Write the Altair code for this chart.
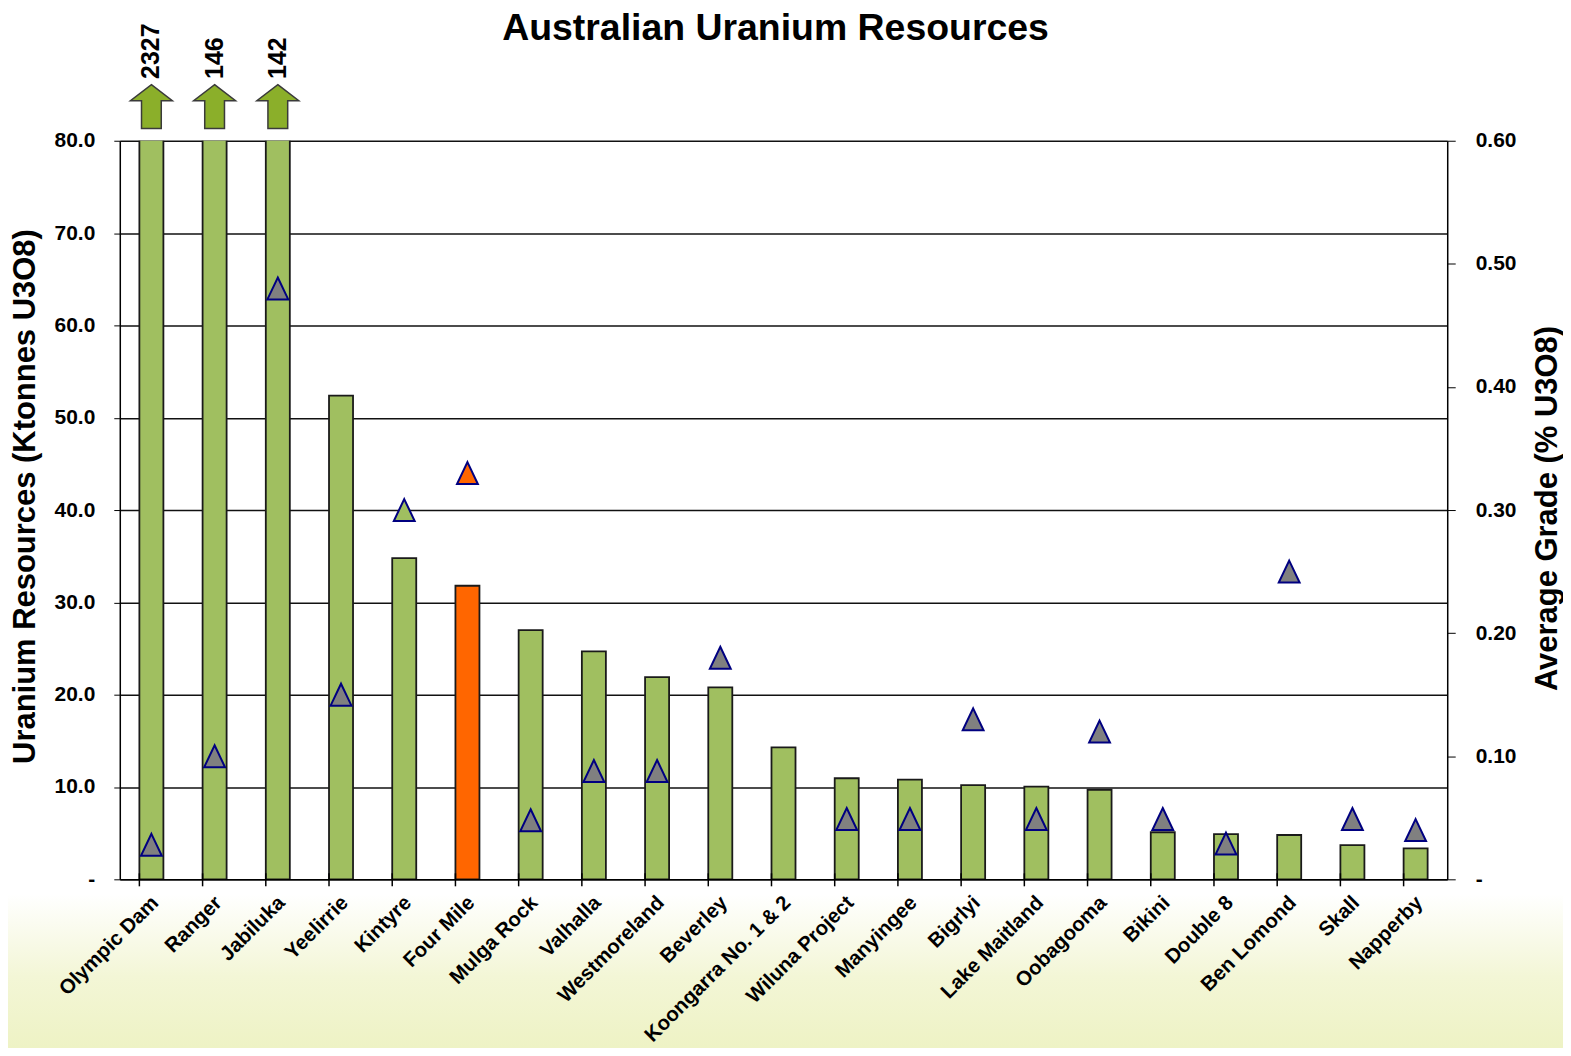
import altair as alt
import pandas as pd

# ---------------- data ----------------
categories = ["Olympic Dam", "Ranger", "Jabiluka", "Yeelirrie", "Kintyre", "Four Mile",
              "Mulga Rock", "Valhalla", "Westmoreland", "Beverley", "Koongarra No. 1 & 2",
              "Wiluna Project", "Manyingee", "Bigrlyi", "Lake Maitland", "Oobagooma",
              "Bikini", "Double 8", "Ben Lomond", "Skall", "Napperby"]
resources = [2327, 146, 142, 52.4, 34.8, 31.8, 27.0, 24.7, 21.9, 20.8, 14.3,
             10.95, 10.8, 10.2, 10.05, 9.7, 5.1, 4.9, 4.8, 3.7, 3.35]
grades = [0.028, 0.10, 0.48, 0.15, 0.30, 0.33, 0.048, 0.088, 0.088, 0.18, None,
          0.049, 0.049, 0.13, 0.049, 0.12, 0.049, 0.029, 0.25, 0.049, 0.04]

y_ticks = [0, 10, 20, 30, 40, 50, 60, 70, 80]
y2_ticks = [0, 0.1, 0.2, 0.3, 0.4, 0.5, 0.6]

# ---------------- styles ----------------
GREEN = "#A0BF60"
ORANGE = "#FF6600"
GREY = "#808080"
NAVY = "#000080"
FONT = "Liberation Sans"
bar_highlight = {"Four Mile": ORANGE}
marker_highlight = {"Kintyre": GREEN, "Four Mile": ORANGE}

df = pd.DataFrame({"name": categories, "resources": resources, "grade": grades})
df["bar_color"] = [bar_highlight.get(n, GREEN) for n in categories]
df["marker_color"] = [marker_highlight.get(n, GREY) for n in categories]
df["label"] = [str(int(v)) for v in resources]

ARROW = "M0,-1 L0.955,-0.27 L0.45,-0.27 L0.45,1 L-0.45,1 L-0.45,-0.27 L-0.955,-0.27 Z"
TRI = "M0,-1 L0.95,1 L-0.95,1 Z"

W, H = 1330, 740

x_enc = alt.X("name:N", sort=categories,
              scale=alt.Scale(paddingInner=0.62, paddingOuter=0.31),
              axis=alt.Axis(title=None, labelAngle=315, labelAlign="right",
                            labelBaseline="middle", labelPadding=20, ticks=False,
                            labelFontSize=20.5, labelLimit=400, grid=False, zindex=2,
                            labelOffset=4,
                            domainColor="#000", domainWidth=1.5))

base = alt.Chart(df).encode(x=x_enc)

# background gradient band at bottom
bg = alt.Chart(pd.DataFrame({"a": [0]})).mark_rect(
    clip=False,
    color=alt.Gradient(gradient="linear",
                       stops=[alt.GradientStop(color="#FFFFFF", offset=0),
                              alt.GradientStop(color="#F3F6D6", offset=0.5),
                              alt.GradientStop(color="#EDF2C2", offset=1)],
                       x1=0, x2=0, y1=0, y2=1)
).encode(x=alt.value(-112), x2=alt.value(W + 116), y=alt.value(755), y2=alt.value(920))

y_left = alt.Y("resources:Q",
               scale=alt.Scale(domain=[0, 80], nice=False),
               axis=alt.Axis(values=y_ticks, grid=True, gridColor="#111", gridWidth=1.5,
                             tickSize=6, tickColor="#000", labelPadding=19,
                             labelExpr="datum.value == 0 ? '-' : format(datum.value, '.1f')",
                             labelFontSize=21, domainColor="#000", domainWidth=1.5,
                             title="Uranium Resources (Ktonnes U3O8)", titleFontSize=31,
                             titleAngle=270, titleX=-94, titleY=356,
                             titleAlign="center", titleBaseline="middle", orient="left"))

bars = base.mark_bar(clip=True, stroke="#1a1a1a", strokeWidth=1.8).encode(
    y=y_left,
    color=alt.Color("bar_color:N", scale=None))

arrows = base.transform_filter("datum.resources > 80").mark_point(
    shape=ARROW, size=1936, filled=True, fill="#8BAF2A", stroke="#3a3a3a",
    strokeWidth=1.5, opacity=1, clip=False
).encode(y=alt.datum(83.7))

labels = base.transform_filter("datum.resources > 80").mark_text(
    angle=270, align="left", baseline="middle", fontSize=25, fontWeight="bold",
    font=FONT, color="#000", clip=False
).encode(y=alt.datum(86.7), text="label:N")

xticks = alt.Chart(df).mark_rule(color="#000", strokeWidth=1.5).encode(
    x=alt.X("name:N", sort=categories, bandPosition=0),
    y=alt.value(H - 6), y2=alt.value(H + 7))

left = alt.layer(bars, arrows, labels, xticks)

tri = base.transform_filter("isValid(datum.grade)").mark_point(
    shape=TRI, size=484, filled=True, stroke=NAVY, strokeWidth=2, opacity=1
).encode(
    y=alt.Y("grade:Q", scale=alt.Scale(domain=[0, 0.6], nice=False),
            axis=alt.Axis(orient="right", values=y2_ticks, grid=False, tickSize=8,
                          tickColor="#000", labelPadding=20,
                          labelExpr="datum.value == 0 ? '-' : format(datum.value, '.2f')",
                          labelFontSize=21, domainColor="#000", domainWidth=1.5,
                          title="Average Grade (% U3O8)", titleFontSize=31,
                          titleAngle=270, titleX=100, titleY=368,
                          titleAlign="center", titleBaseline="middle")),
    fill=alt.Fill("marker_color:N", scale=None))

chart = alt.layer(bg, left, tri).resolve_scale(y="independent").properties(
    width=W, height=H,
    autosize=alt.AutoSizeParams(type="none"),
    padding={"left": 112, "top": 132, "right": 116, "bottom": 168},
    title=alt.TitleParams("Australian Uranium Resources", fontSize=37.5, font=FONT,
                          fontWeight="bold", anchor="middle", offset=0, dy=24, dx=-8,
                          color="#000"),
    background="white",
).configure_view(stroke=None).configure_axis(
    labelFont=FONT, labelFontWeight="bold", labelColor="#000",
    titleFont=FONT, titleFontWeight="bold", titleColor="#000")

chart.save("out.html", embed_options={"renderer": "svg", "actions": False})
